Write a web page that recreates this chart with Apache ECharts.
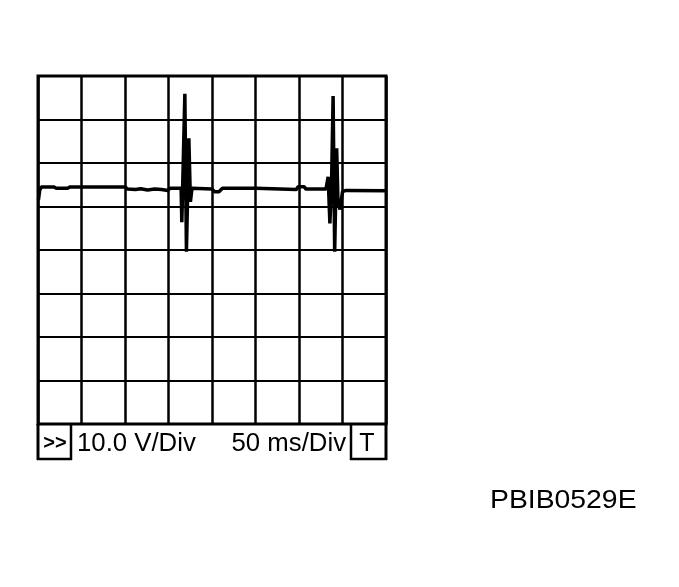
<!DOCTYPE html>
<html>
<head>
<meta charset="utf-8">
<script src="https://cdn.jsdelivr.net/npm/echarts@6/dist/echarts.min.js"></script>
<style>
html,body{margin:0;padding:0;background:#fff;}
#c{width:679px;height:587px;}
</style>
</head>
<body>
<div id="c"></div>
<script>
// Time (ms) and voltage (V) samples
var timesMs = [0.5, 2, 4, 18, 21, 34, 37, 100, 103, 112, 118, 126, 134, 142, 149, 152,
  164.5, 165.3, 167.2, 168.8, 170.6, 173.4, 175.2, 177, 200, 203, 208, 212, 250, 252,
  297, 299, 306, 308, 331, 333.5, 335.5, 337.5, 339.2, 341, 343.3, 344.8, 347.2, 350, 354, 400];
var volts = [11.5, 13.8, 14.5, 14.5, 14.2, 14.2, 14.5, 14.5, 14.0, 13.9, 14.1, 13.8, 14.0, 13.9, 13.7, 14.2,
  14.2, 6.4, 6.4, 35.9, -0.4, 25.7, 11.1, 14.2, 14.0, 13.4, 13.4, 14.2, 14.2, 13.9,
  13.9, 14.55, 14.55, 14.0, 14.0, 16.85, 6.1, 16.0, 35.4, -0.4, 23.4, 11.1, 9.3, 13.4, 13.7, 13.6];
var voltLabel = '10.0 V/Div';
var timeLabel = '50 ms/Div';
var triggerLabel = 'T';
var menuLabel = '>>';
var figureCode = 'PBIB0529E';

var series = timesMs.map(function (t, i) { return [t, volts[i]]; });
var FONT = '"Liberation Sans", Arial, Helvetica, sans-serif';

var chart = echarts.init(document.getElementById('c'), null, {renderer: 'canvas'});
chart.setOption({
  animation: false,
  backgroundColor: '#fff',
  grid: {left: 38, top: 76, width: 348, height: 348, show: true, borderColor: '#000', borderWidth: 3},
  xAxis: {
    type: 'value', min: 0, max: 400, interval: 50,
    axisLine: {show: false}, axisTick: {show: false}, axisLabel: {show: false},
    splitLine: {show: true, lineStyle: {color: '#000', width: 2.5}}
  },
  yAxis: {
    type: 'value', min: -40, max: 40, interval: 10,
    axisLine: {show: false}, axisTick: {show: false}, axisLabel: {show: false},
    splitLine: {show: true, lineStyle: {color: '#000', width: 2}}
  },
  series: [{
    type: 'line', data: series, symbol: 'none', smooth: false,
    lineStyle: {color: '#000', width: 3.5}
  }],
  graphic: [
    {type: 'line', shape: {x1: 38, y1: 424, x2: 38, y2: 460}, style: {stroke: '#000', lineWidth: 3}},
    {type: 'line', shape: {x1: 386, y1: 424, x2: 386, y2: 460}, style: {stroke: '#000', lineWidth: 3}},
    {type: 'line', shape: {x1: 37, y1: 459, x2: 72, y2: 459}, style: {stroke: '#000', lineWidth: 2.5}},
    {type: 'line', shape: {x1: 71, y1: 424, x2: 71, y2: 460}, style: {stroke: '#000', lineWidth: 2.5}},
    {type: 'line', shape: {x1: 351, y1: 424, x2: 351, y2: 460}, style: {stroke: '#000', lineWidth: 2.5}},
    {type: 'line', shape: {x1: 350, y1: 459, x2: 387, y2: 459}, style: {stroke: '#000', lineWidth: 2.5}},
    {type: 'text', x: 55, y: 443, style: {text: menuLabel, font: 'bold 20px ' + FONT, fill: '#000', textAlign: 'center', textVerticalAlign: 'middle'}},
    {type: 'text', x: 77, y: 444, scaleX: 1.03, style: {text: voltLabel, font: '25px ' + FONT, fill: '#000', textAlign: 'left', textVerticalAlign: 'middle'}},
    {type: 'text', x: 346, y: 444, scaleX: 1.03, style: {text: timeLabel, font: '25px ' + FONT, fill: '#000', textAlign: 'right', textVerticalAlign: 'middle'}},
    {type: 'text', x: 367, y: 444, style: {text: triggerLabel, font: '25px ' + FONT, fill: '#000', textAlign: 'center', textVerticalAlign: 'middle'}},
    {type: 'text', x: 490, y: 501, scaleX: 1.09, style: {text: figureCode, font: '26px ' + FONT, fill: '#000', textAlign: 'left', textVerticalAlign: 'middle'}}
  ]
});
</script>
</body>
</html>
